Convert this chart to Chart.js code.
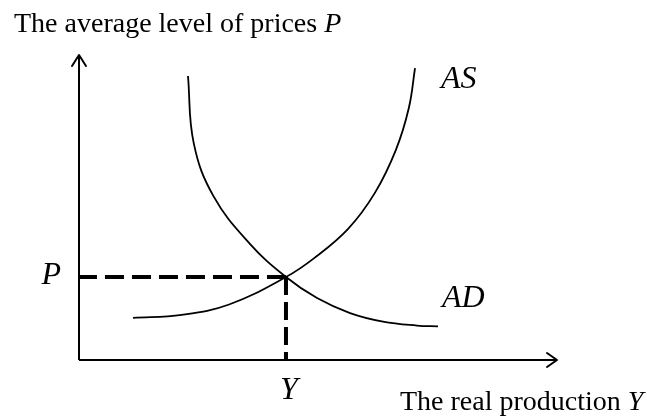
<!DOCTYPE html>
<html>
<head>
<meta charset="utf-8">
<title>AS / AD</title>
<script src="https://cdn.jsdelivr.net/npm/chart.js@4/dist/chart.umd.min.js"></script>
<style>
    html, body { margin: 0; padding: 0; background: #fff; }
    #wrap { width: 647px; height: 416px; }
</style>
</head>
<body>
<div id="wrap"><canvas id="asadChart" width="647" height="416"></canvas></div>
<script>
// Dati (unita' arbitrarie 0-100)
const xRange = [0, 100];
const yRange = [0, 100];

// Curva AD (domanda aggregata)
const adX = [22.8, 24.0, 28.1, 35.8, 43.3, 49.8, 56.7, 63.6, 70.7, 75.1];
const adY = [93.1, 71.1, 53.8, 38.0, 27.2, 20.3, 15.4, 12.6, 11.3, 11.0];

// Curva AS (offerta aggregata)
const asX = [11.3, 21.5, 31.4, 43.3, 49.2, 56.3, 61.9, 66.3, 69.0, 70.3];
const asY = [13.8, 14.8, 18.2, 27.2, 33.4, 43.0, 54.8, 68.9, 82.6, 95.7];

// Equilibrio
const eqX = 43.3;
const eqY = 27.2;

const serif = '"Liberation Serif", "Times New Roman", serif';

function toPoints(xs, ys) {
    return xs.map((x, i) => ({ x: x, y: ys[i] }));
}

// Frecce sugli assi + testi
const decorPlugin = {
    id: 'decor',
    afterDatasetsDraw(chart) {
        const ctx = chart.ctx;
        const xs = chart.scales.x;
        const ys = chart.scales.y;
        const x0 = xs.getPixelForValue(xRange[0]);
        const y0 = ys.getPixelForValue(yRange[0]);
        const xEnd = xs.getPixelForValue(xRange[1]);
        const yEnd = ys.getPixelForValue(yRange[1]);

        ctx.save();
        ctx.strokeStyle = '#000';
        ctx.lineWidth = 2;
        ctx.lineCap = 'round';
        ctx.lineJoin = 'round';

        // freccia asse x
        ctx.beginPath();
        ctx.moveTo(xEnd - 10, y0 - 7);
        ctx.lineTo(xEnd, y0);
        ctx.lineTo(xEnd - 10, y0 + 7);
        ctx.stroke();

        // freccia asse y
        ctx.beginPath();
        ctx.moveTo(x0 - 7, yEnd + 11);
        ctx.lineTo(x0, yEnd);
        ctx.lineTo(x0 + 7, yEnd + 11);
        ctx.stroke();

        ctx.fillStyle = '#000';
        ctx.textBaseline = 'alphabetic';

        // titolo asse y
        ctx.textAlign = 'left';
        ctx.font = '28px ' + serif;
        const t1 = 'The average level of prices ';
        ctx.fillText(t1, 14, 32);
        const w1 = ctx.measureText(t1).width;
        ctx.font = 'italic 28px ' + serif;
        ctx.fillText('P', 14 + w1, 32);

        // titolo asse x
        ctx.font = '28px ' + serif;
        const t2 = 'The real production ';
        ctx.fillText(t2, 400, 410);
        const w2 = ctx.measureText(t2).width;
        ctx.font = 'italic 28px ' + serif;
        ctx.fillText('Y', 400 + w2, 410);

        // etichette curve ed equilibrio
        ctx.font = 'italic 32px ' + serif;
        ctx.fillText('AS', 441, 88);
        ctx.fillText('AD', 442, 307);

        const px = xs.getPixelForValue(eqX);
        const py = ys.getPixelForValue(eqY);
        ctx.textAlign = 'right';
        ctx.fillText('P', x0 - 18, py + 7);
        ctx.textAlign = 'center';
        ctx.fillText('Y', px + 3, y0 + 39);

        ctx.restore();
    }
};

const lineBase = {
    pointRadius: 0,
    pointHoverRadius: 0,
    fill: false,
    showLine: true,
    borderColor: '#000',
    clip: false
};

new Chart(document.getElementById('asadChart'), {
    type: 'scatter',
    data: {
        datasets: [
            // assi
            { ...lineBase, label: 'asse x', data: [{ x: xRange[0], y: yRange[0] }, { x: xRange[1], y: yRange[0] }], borderWidth: 2, tension: 0 },
            { ...lineBase, label: 'asse y', data: [{ x: xRange[0], y: yRange[0] }, { x: xRange[0], y: yRange[1] }], borderWidth: 2, tension: 0 },
            // tratteggi equilibrio
            { ...lineBase, label: 'P', data: [{ x: eqX, y: eqY }, { x: xRange[0], y: eqY }], borderWidth: 4, borderDash: [19, 8], tension: 0 },
            { ...lineBase, label: 'Y', data: [{ x: eqX, y: eqY }, { x: eqX, y: yRange[0] }], borderWidth: 4, borderDash: [18, 7], tension: 0 },
            // curve
            { ...lineBase, label: 'AD', data: toPoints(adX, adY), borderWidth: 1.8, tension: 0.4 },
            { ...lineBase, label: 'AS', data: toPoints(asX, asY), borderWidth: 1.8, tension: 0.4 }
        ]
    },
    options: {
        responsive: false,
        animation: false,
        events: [],
        layout: {
            padding: { left: 79, right: 90, top: 55, bottom: 56 }
        },
        elements: {
            line: { tension: 0.4, capBezierPoints: false }
        },
        plugins: {
            legend: { display: false },
            tooltip: { enabled: false },
            title: { display: false }
        },
        scales: {
            x: { type: 'linear', min: xRange[0], max: xRange[1], display: false },
            y: { type: 'linear', min: yRange[0], max: yRange[1], display: false }
        }
    },
    plugins: [decorPlugin]
});
</script>
</body>
</html>
